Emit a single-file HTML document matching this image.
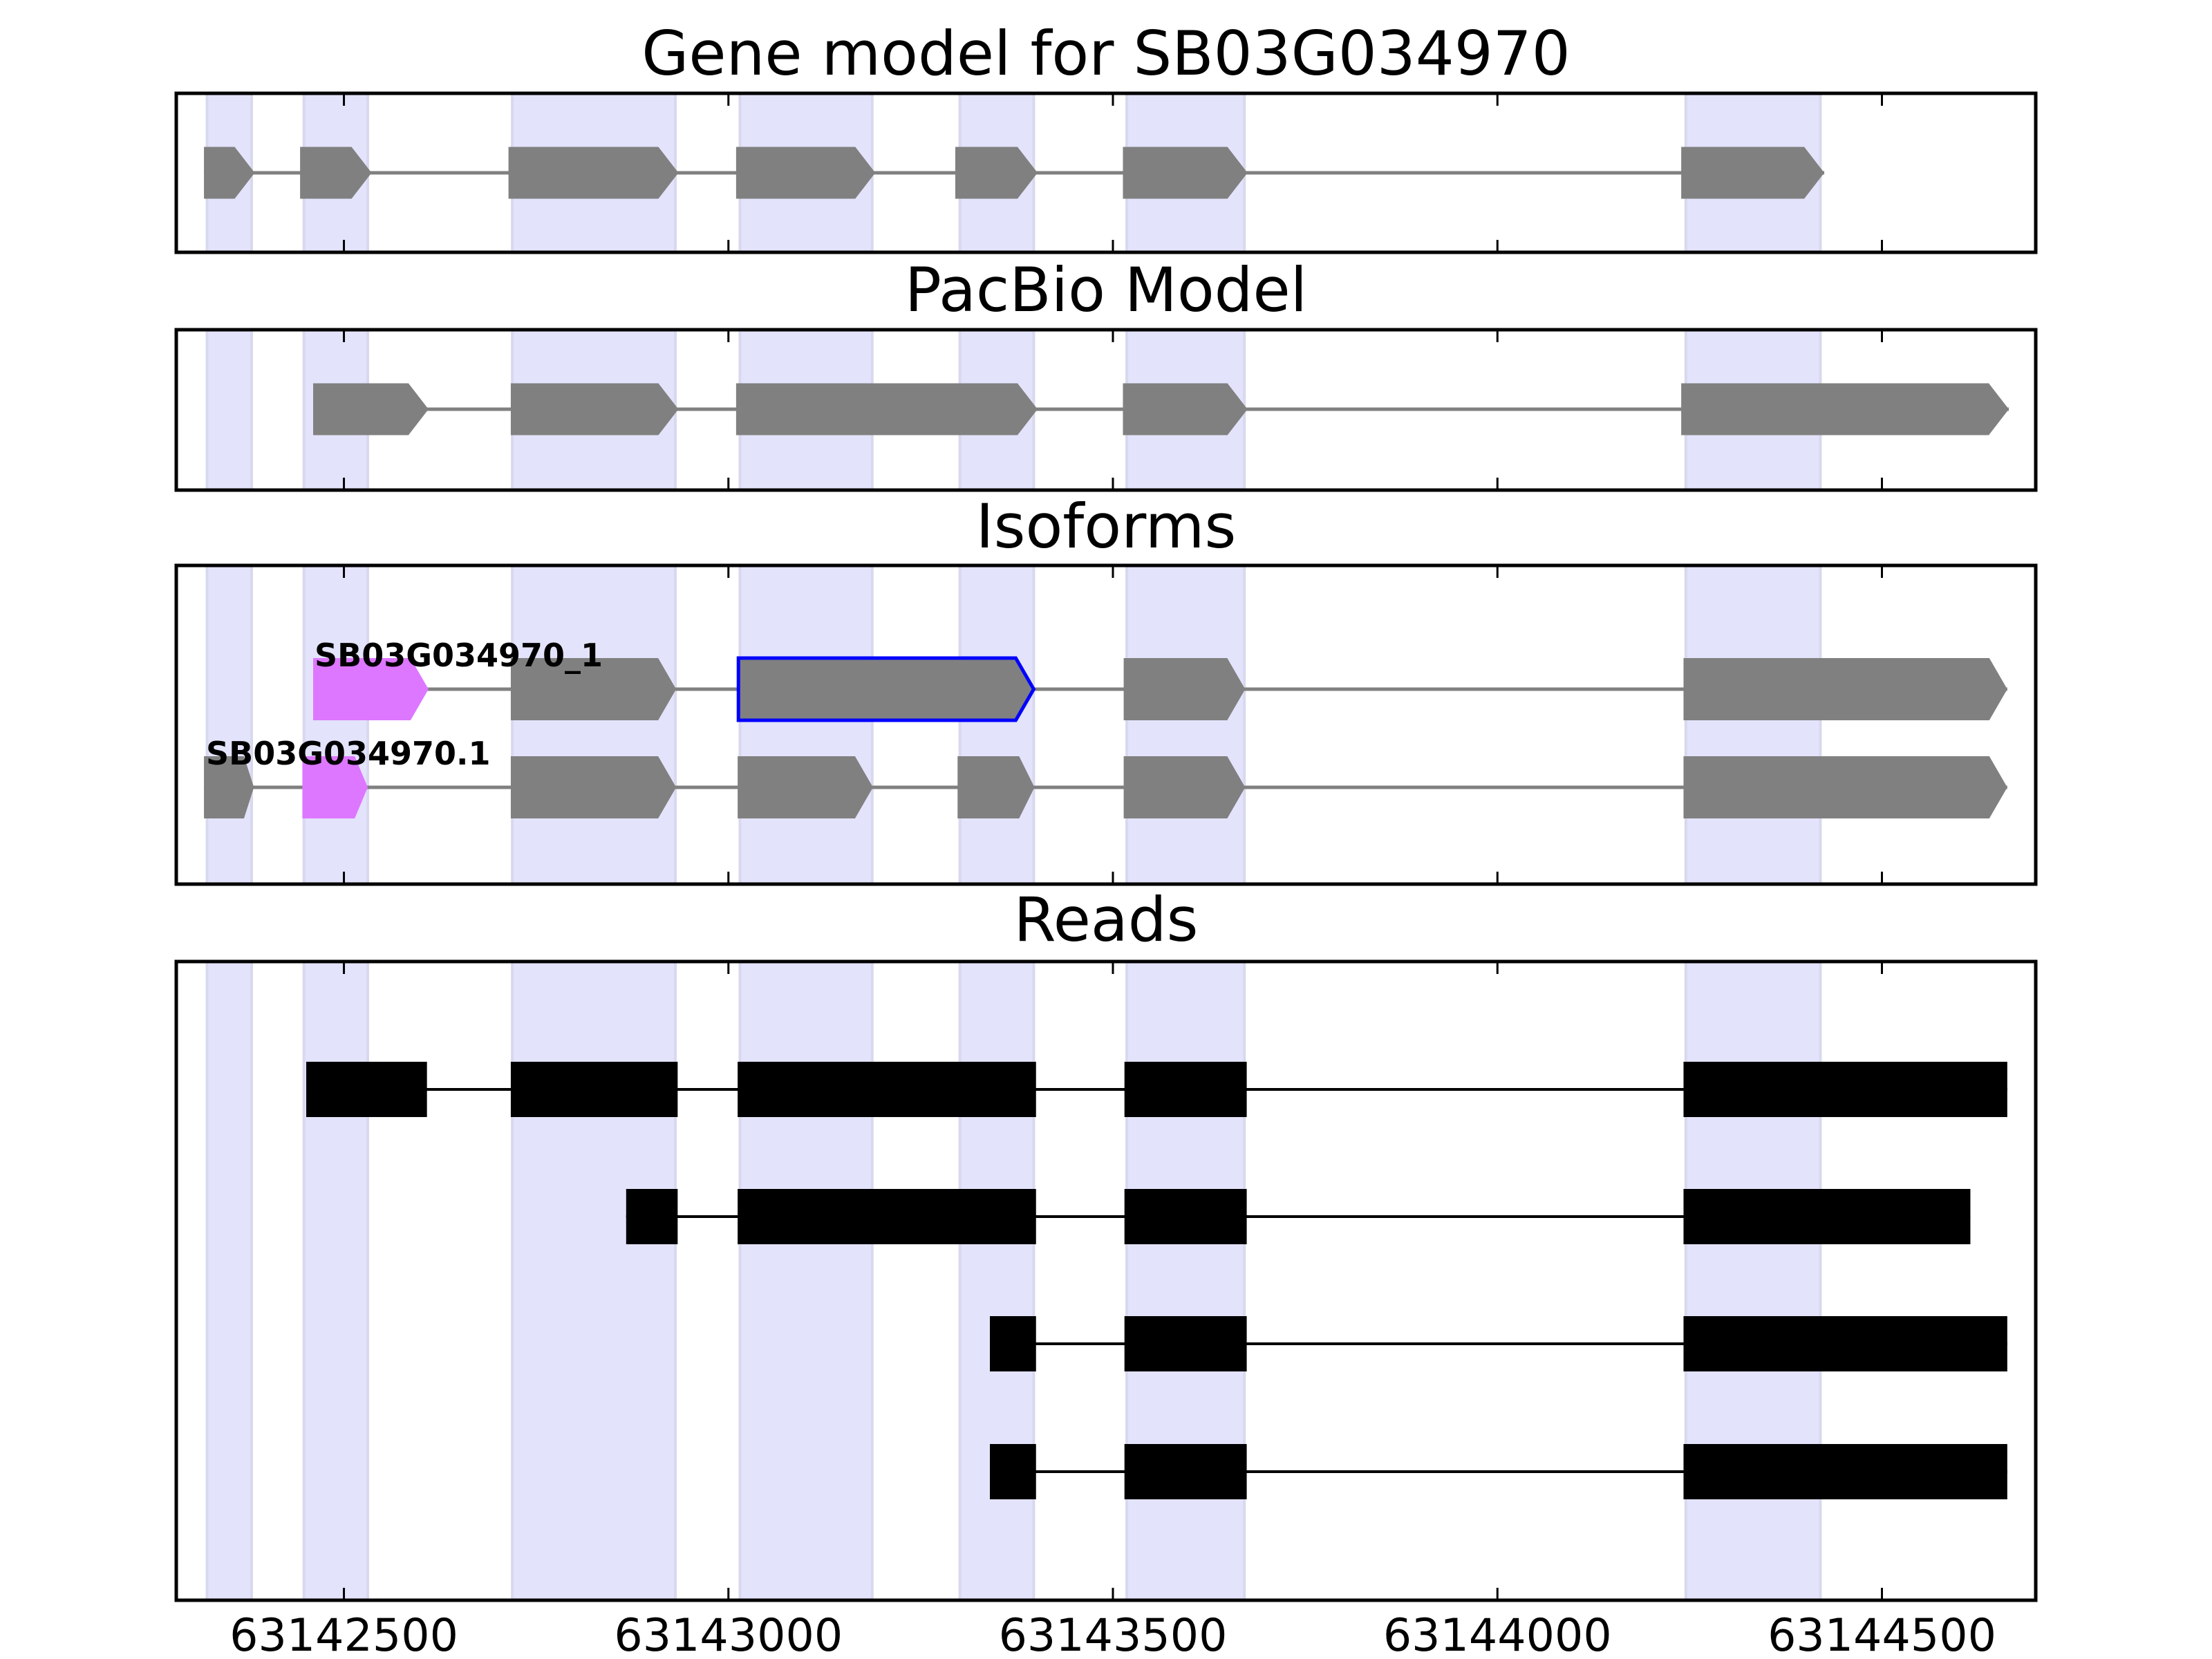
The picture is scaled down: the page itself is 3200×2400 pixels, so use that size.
<!DOCTYPE html>
<html>
<head>
<meta charset="utf-8">
<style>
html,body{margin:0;padding:0;background:#fff;}
svg{display:block;}
text{font-family:"DejaVu Sans","Liberation Sans",sans-serif;}
</style>
</head>
<body>
<svg id="chart" width="3200" height="2400" viewBox="0 0 3200 2400" xmlns="http://www.w3.org/2000/svg"></svg>
<script>
// ---- data (genomic coordinates, bp) ----
const xDomain = [63142282, 63144700];
const xTicks = [63142500, 63143000, 63143500, 63144000, 63144500];
const xTickLabels = ["63142500", "63143000", "63143500", "63144000", "63144500"];
const panelTitles = ["Gene model for SB03G034970", "PacBio Model", "Isoforms", "Reads"];
const shadeStarts = [63142322, 63142448, 63142719, 63143015, 63143301, 63143518, 63144245];
const shadeEnds   = [63142380, 63142531, 63142931, 63143187, 63143397, 63143671, 63144420];
const geneStarts = [63142318, 63142443, 63142714, 63143010, 63143295, 63143513, 63144239];
const geneEnds   = [63142384, 63142536, 63142935, 63143191, 63143402, 63143675, 63144425];
const pacbioStarts = [63142460, 63142717, 63143010, 63143513, 63144239];
const pacbioEnds   = [63142610, 63142935, 63143402, 63143675, 63144665];
const iso1Name = "SB03G034970_1";
const iso1Starts = [63142460, 63142717, 63143013, 63143514, 63144242];
const iso1Ends   = [63142610, 63142932, 63143397, 63143672, 63144663];
const iso1Colors = ["#dd77ff", "#808080", "#808080", "#808080", "#808080"];
const iso1Outline = [false, false, true, false, false];
const iso2Name = "SB03G034970.1";
const iso2Starts = [63142318, 63142446, 63142717, 63143012, 63143298, 63143514, 63144242];
const iso2Ends   = [63142383, 63142531, 63142932, 63143188, 63143398, 63143672, 63144663];
const iso2Colors = ["#808080", "#dd77ff", "#808080", "#808080", "#808080", "#808080", "#808080"];
const read1Starts = [63142451, 63142717, 63143012, 63143515, 63144242];
const read1Ends   = [63142608, 63142934, 63143400, 63143674, 63144663];
const read2Starts = [63142867, 63143012, 63143515, 63144242];
const read2Ends   = [63142934, 63143400, 63143674, 63144615];
const read3Starts = [63143340, 63143515, 63144242];
const read3Ends   = [63143400, 63143674, 63144663];
const read4Starts = [63143340, 63143515, 63144242];
const read4Ends   = [63143400, 63143674, 63144663];

// ---- layout ----
const NS = "http://www.w3.org/2000/svg";
const svg = document.getElementById("chart");
const AX_L = 255, AX_R = 2945;
function xScale(bp){ return AX_L + (bp - xDomain[0]) / (xDomain[1] - xDomain[0]) * (AX_R - AX_L); }
const panels = [
  {top:135, bottom:365, titleY:108},
  {top:477, bottom:709, titleY:450},
  {top:818, bottom:1279, titleY:792},
  {top:1391, bottom:2315, titleY:1361}
];
function mk(tag, attrs){
  const e = document.createElementNS(NS, tag);
  for (const k in attrs) e.setAttribute(k, attrs[k]);
  return e;
}
function arrowPoints(x0, x1, cy, h, head){
  const t = Math.max(0, x1 - head);
  return `${x0},${cy-h/2} ${t},${cy-h/2} ${x1},${cy} ${t},${cy+h/2} ${x0},${cy+h/2}`;
}

panels.forEach((p, pi) => {
  const g = mk("g", {});
  
  
  svg.appendChild(g);
  const t = mk("text", {x:1600, y:p.titleY, "font-size":88, "text-anchor":"middle", fill:"#000"});
  
  
  t.textContent = panelTitles[pi];
  g.appendChild(t);
  shadeStarts.forEach((s, i) => {
    const x0 = xScale(s), x1 = xScale(shadeEnds[i]);
    const r = mk("rect", {x:x0, y:p.top, width:x1-x0, height:p.bottom-p.top, fill:"#e3e3fc", stroke:"#d8d8ee", "stroke-width":4});
    
    
    g.appendChild(r);
  });
});

function drawTranscript(panelIdx, starts, ends, cy, h, colors, headFn, lineColor, lineW, name, outline){
  const g = mk("g", {});
  
  
  svg.appendChild(g);
  const ln = mk("line", {x1:xScale(starts[0]), x2:xScale(ends[ends.length-1]), y1:cy, y2:cy, stroke:lineColor, "stroke-width":lineW});
  
  
  g.appendChild(ln);
  starts.forEach((s, i) => {
    const x0 = xScale(s), x1 = xScale(ends[i]);
    let el;
    if (headFn) {
      el = mk("polygon", {points: arrowPoints(x0, x1, cy, h, headFn(x1-x0)), fill: colors[i]});
      if (outline && outline[i]) { el.setAttribute("stroke", "#0000ff"); el.setAttribute("stroke-width", 5); }
    } else {
      el = mk("rect", {x:x0, y:cy-h/2, width:x1-x0, height:h, fill:colors[i]});
    }
    
    
    g.appendChild(el);
  });
  return g;
}
const gray = c => Array(c).fill("#808080");
drawTranscript(0, geneStarts, geneEnds, 250, 75, gray(geneStarts.length), w => 29, "#808080", 5, "gene-model-transcript");
drawTranscript(1, pacbioStarts, pacbioEnds, 592, 75, gray(pacbioStarts.length), w => 29, "#808080", 5, "pacbio-transcript");
const isoHead = w => Math.min(26, w * 0.2);
drawTranscript(2, iso1Starts, iso1Ends, 997, 90, iso1Colors, isoHead, "#808080", 5, "isoform-1", iso1Outline);
drawTranscript(2, iso2Starts, iso2Ends, 1139, 90, iso2Colors, isoHead, "#808080", 5, "isoform-2");
const l1 = mk("text", {x:xScale(iso1Starts[0]) + 2, y:964, "font-size":46, "font-weight":"bold", fill:"#000"});


l1.textContent = iso1Name;
svg.appendChild(l1);
const l2 = mk("text", {x:xScale(iso2Starts[0]) + 3, y:1106, "font-size":46, "font-weight":"bold", fill:"#000"});


l2.textContent = iso2Name;
svg.appendChild(l2);

const readsS = [read1Starts, read2Starts, read3Starts, read4Starts];
const readsE = [read1Ends, read2Ends, read3Ends, read4Ends];
const readY = [1576, 1760, 1944, 2129];
readsS.forEach((s, i) => {
  drawTranscript(3, s, readsE[i], readY[i], 80, Array(s.length).fill("#000"), null, "#000", 4, "read-" + (i+1));
});

panels.forEach((p, pi) => {
  const fr = mk("rect", {x:AX_L, y:p.top, width:AX_R-AX_L, height:p.bottom-p.top, fill:"none", stroke:"#000", "stroke-width":5});
  
  
  svg.appendChild(fr);
  xTicks.forEach((tv, i) => {
    const x = xScale(tv);
    const a = mk("line", {x1:x, x2:x, y1:p.top, y2:p.top+18, stroke:"#000", "stroke-width":3});
    
    
    svg.appendChild(a);
    const b = mk("line", {x1:x, x2:x, y1:p.bottom-18, y2:p.bottom, stroke:"#000", "stroke-width":3});
    
    
    svg.appendChild(b);
    if (pi === panels.length - 1) {
      const tl = mk("text", {x:x, y:2388, "font-size":65, "text-anchor":"middle", fill:"#000"});
      
      
      tl.textContent = xTickLabels[i];
      svg.appendChild(tl);
    }
  });
});
</script>
</body>
</html>
